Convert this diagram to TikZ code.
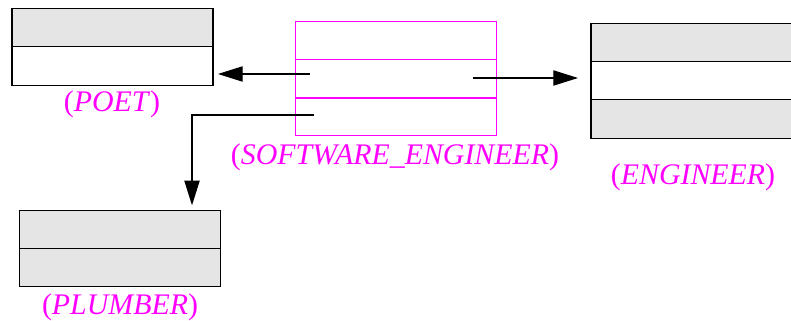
\documentclass[tikz,border=0pt]{standalone}
\usepackage{fontspec}
\setmainfont{Liberation Serif}
\usetikzlibrary{arrows.meta}
\definecolor{pinkline}{RGB}{255,0,255}

\begin{document}
\begin{tikzpicture}[x=0.03cm, y=-0.03cm, >={Triangle[length=21pt, width=13pt]}, line width=0.9pt,
    cell/.style={draw, minimum width=6.03cm, minimum height=1.15cm, inner sep=0pt, outer sep=0pt},
    grey/.style={cell, fill=black!10},
    pink/.style={cell, draw=pinkline, line width=0.7pt},
    tag/.style={text=pinkline, font=\fontsize{25.5}{30}\selectfont}]
        \useasboundingbox (0,0) rectangle (791,321);

        % Classes
        \node[grey] (poetA) at (112.5, 27.5) {};
        \node[cell] (poetB) at (112.5, 66)   {};
        \node[pink] (softA) at (395.5, 40.5) {};
        \node[pink] (softB) at (395.5, 79)   {};
        \node[pink] (softC) at (395.5, 116.5){};
        \node[grey] (engA)  at (691.5, 42.5) {};
        \node[cell] (engB)  at (691.5, 81)   {};
        \node[grey] (engC)  at (691.5, 119)  {};
        \node[grey] (plumA) at (120, 229.5)  {};
        \node[grey] (plumB) at (120, 267.5)  {};

        % Names
        \node[tag] (poet) at (112, 104) {(\textit{POET})};
        \node[tag] (soft) at (395, 157) {(\textit{SOFTWARE\_ENGINEER})};
        \node[tag] (eng)  at (693, 177) {(\textit{ENGINEER})};
        \node[tag] (plum) at (120, 307) {(\textit{PLUMBER})};

        % Edges
        \coordinate (s1) at (310, 74);
        \coordinate (s2) at (473, 78);
        \coordinate (s3) at (314, 115);
        \draw[->, shorten >=0.15cm] (s1) -- (s1 -| poetB.east);
        \draw[->, shorten >=0.39cm] (s2) -- (s2 -| engB.west);
        \draw[->, shorten >=0.15cm] (s3) -| ([xshift=2.16cm]plumA.north);
\end{tikzpicture}
\end{document}
